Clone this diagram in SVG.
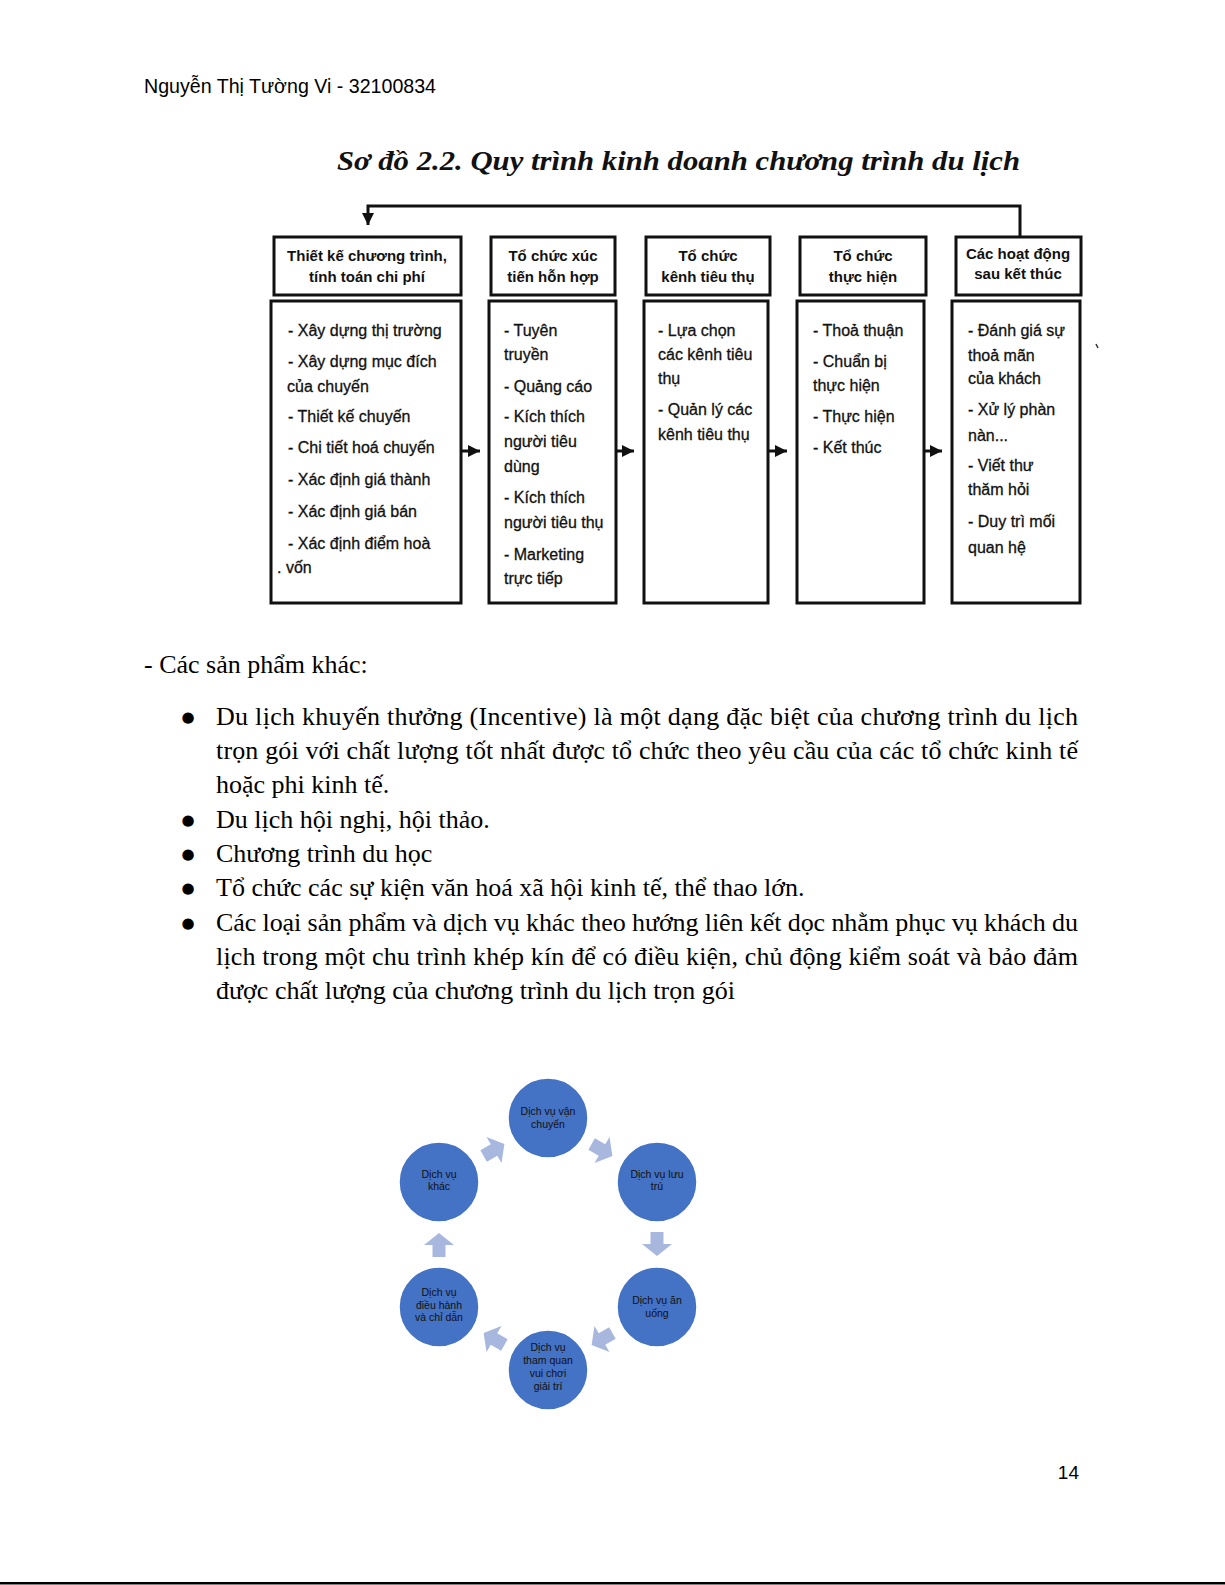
<svg xmlns="http://www.w3.org/2000/svg" width="1225" height="1585" viewBox="0 0 1225 1585">
<defs>
<style>
.box{fill:#fff;stroke:#111;stroke-width:3}
.hd{font-family:"Liberation Sans",Arial,sans-serif;font-size:15px;font-weight:bold;fill:#111;text-anchor:middle}
.bd{font-family:"Liberation Sans",Arial,sans-serif;font-size:16px;fill:#111;stroke:#111;stroke-width:0.3}
.ln{fill:none;stroke:#111;stroke-width:3}
.para{font-family:"Liberation Serif","Times New Roman",serif;font-size:26px;fill:#000}
.bul{font-family:"DejaVu Sans",sans-serif;font-size:15px;fill:#000;text-anchor:middle}
.circ{fill:#4472C4;stroke:#fff;stroke-width:1.5}
.ct{font-family:"Liberation Sans",Arial,sans-serif;font-size:10.5px;fill:#111;text-anchor:middle}
.arr{fill:#A7B7DD}
</style>
<marker id="ah" viewBox="0 0 10 10" refX="10" refY="5" markerWidth="4" markerHeight="4.5" orient="auto" markerUnits="strokeWidth">
<path d="M0,0 L10,5 L0,10 Z" fill="#111"/>
</marker>
<path id="blk" d="M-12,-6.5 L0,-6.5 L0,-15 L12,0 L0,15 L0,6.5 L-12,6.5 Z"/>
</defs>
<rect width="1225" height="1585" fill="#fff"/>

<text x="144" y="93" font-family="Liberation Sans,Arial,sans-serif" font-size="20" fill="#000" textLength="292" lengthAdjust="spacingAndGlyphs">Nguyễn Thị Tường Vi - 32100834</text>

<text x="337" y="170" font-family="Liberation Serif,serif" font-size="27" font-weight="bold" font-style="italic" fill="#111" textLength="683" lengthAdjust="spacingAndGlyphs">Sơ đồ 2.2. Quy trình kinh doanh chương trình du lịch</text>

<g id="connectors">
<path class="ln" d="M1020,237 L1020,206 L368,206 L368,225" marker-end="url(#ah)"/>
<path class="ln" d="M461,451 L480,451" marker-end="url(#ah)"/>
<path class="ln" d="M616,451 L634,451" marker-end="url(#ah)"/>
<path class="ln" d="M768,451 L787,451" marker-end="url(#ah)"/>
<path class="ln" d="M924,451 L942,451" marker-end="url(#ah)"/>
</g>

<g id="step1">
<rect class="box" x="274" y="237" width="187" height="58"/>
<text class="hd" x="367" y="261">Thiết kế chương trình,</text>
<text class="hd" x="367" y="282">tính toán chi phí</text>
<rect class="box" x="271" y="301" width="190" height="302"/>
<text class="bd" x="288" y="336">- Xây dựng thị trường</text>
<text class="bd" x="288" y="367">- Xây dựng mục đích</text>
<text class="bd" x="287" y="392">của chuyến</text>
<text class="bd" x="288" y="422">- Thiết kế chuyến</text>
<text class="bd" x="288" y="453">- Chi tiết hoá chuyến</text>
<text class="bd" x="288" y="485">- Xác định giá thành</text>
<text class="bd" x="288" y="517">- Xác định giá bán</text>
<text class="bd" x="288" y="549">- Xác định điểm hoà</text>
<text class="bd" x="277" y="573">. vốn</text>
</g>

<g id="step2">
<rect class="box" x="491" y="237" width="124" height="58"/>
<text class="hd" x="553" y="261">Tổ chức xúc</text>
<text class="hd" x="553" y="282">tiến hỗn hợp</text>
<rect class="box" x="489" y="301" width="127" height="302"/>
<text class="bd" x="504" y="336">- Tuyên</text>
<text class="bd" x="504" y="360">truyền</text>
<text class="bd" x="504" y="392">- Quảng cáo</text>
<text class="bd" x="504" y="422">- Kích thích</text>
<text class="bd" x="504" y="447">người tiêu</text>
<text class="bd" x="504" y="472">dùng</text>
<text class="bd" x="504" y="503">- Kích thích</text>
<text class="bd" x="504" y="528">người tiêu thụ</text>
<text class="bd" x="504" y="560">- Marketing</text>
<text class="bd" x="504" y="584">trực tiếp</text>
</g>

<g id="step3">
<rect class="box" x="646" y="237" width="124" height="58"/>
<text class="hd" x="708" y="261">Tổ chức</text>
<text class="hd" x="708" y="282">kênh tiêu thụ</text>
<rect class="box" x="644" y="301" width="124" height="302"/>
<text class="bd" x="658" y="336">- Lựa chọn</text>
<text class="bd" x="658" y="360">các kênh tiêu</text>
<text class="bd" x="658" y="384">thụ</text>
<text class="bd" x="658" y="415">- Quản lý các</text>
<text class="bd" x="658" y="440">kênh tiêu thụ</text>
</g>

<g id="step4">
<rect class="box" x="800" y="237" width="126" height="58"/>
<text class="hd" x="863" y="261">Tổ chức</text>
<text class="hd" x="863" y="282">thực hiện</text>
<rect class="box" x="797" y="301" width="127" height="302"/>
<text class="bd" x="813" y="336">- Thoả thuận</text>
<text class="bd" x="813" y="367">- Chuẩn bị</text>
<text class="bd" x="813" y="391">thực hiện</text>
<text class="bd" x="813" y="422">- Thực hiện</text>
<text class="bd" x="813" y="453">- Kết thúc</text>
</g>

<g id="step5">
<rect class="box" x="956" y="237" width="125" height="58"/>
<text class="hd" x="1018" y="259">Các hoạt động</text>
<text class="hd" x="1018" y="279">sau kết thúc</text>
<rect class="box" x="952" y="301" width="128" height="302"/>
<text class="bd" x="968" y="336">- Đánh giá sự</text>
<text class="bd" x="968" y="361">thoả mãn</text>
<text class="bd" x="968" y="384">của khách</text>
<text class="bd" x="968" y="415">- Xử lý phàn</text>
<text class="bd" x="968" y="441">nàn...</text>
<text class="bd" x="968" y="471">- Viết thư</text>
<text class="bd" x="968" y="495">thăm hỏi</text>
<text class="bd" x="968" y="527">- Duy trì mối</text>
<text class="bd" x="968" y="553">quan hệ</text>
</g>
<path d="M1096,344 L1098,348" stroke="#333" stroke-width="1.5"/>

<g id="paragraph">
<text class="para" x="144" y="673">- Các sản phẩm khác:</text>
<text class="bul" x="188" y="722">●</text>
<text class="para" x="216" y="725" textLength="862" lengthAdjust="spacing">Du lịch khuyến thưởng (Incentive) là một dạng đặc biệt của chương trình du lịch</text>
<text class="para" x="216" y="759" textLength="862" lengthAdjust="spacing">trọn gói với chất lượng tốt nhất được tổ chức theo yêu cầu của các tổ chức kinh tế</text>
<text class="para" x="216" y="793">hoặc phi kinh tế.</text>
<text class="bul" x="188" y="825">●</text>
<text class="para" x="216" y="828">Du lịch hội nghị, hội thảo.</text>
<text class="bul" x="188" y="859">●</text>
<text class="para" x="216" y="862">Chương trình du học</text>
<text class="bul" x="188" y="893">●</text>
<text class="para" x="216" y="896">Tổ chức các sự kiện văn hoá xã hội kinh tế, thể thao lớn.</text>
<text class="bul" x="188" y="928">●</text>
<text class="para" x="216" y="931" textLength="862" lengthAdjust="spacing">Các loại sản phẩm và dịch vụ khác theo hướng liên kết dọc nhằm phục vụ khách du</text>
<text class="para" x="216" y="965" textLength="862" lengthAdjust="spacing">lịch trong một chu trình khép kín để có điều kiện, chủ động kiểm soát và bảo đảm</text>
<text class="para" x="216" y="999">được chất lượng của chương trình du lịch trọn gói</text>
</g>

<g id="cycle-arrows">
<use href="#blk" class="arr" transform="translate(602,1150) rotate(30)"/>
<use href="#blk" class="arr" transform="translate(657,1244) rotate(90)"/>
<use href="#blk" class="arr" transform="translate(602,1339) rotate(150)"/>
<use href="#blk" class="arr" transform="translate(494,1339) rotate(210)"/>
<use href="#blk" class="arr" transform="translate(439,1245) rotate(270)"/>
<use href="#blk" class="arr" transform="translate(494,1150) rotate(330)"/>
</g>

<g id="c1">
<circle class="circ" cx="548" cy="1118" r="40"/>
<text class="ct" x="548" y="1115">Dịch vụ vận</text>
<text class="ct" x="548" y="1128">chuyển</text>
</g>
<g id="c2">
<circle class="circ" cx="657" cy="1182" r="40"/>
<text class="ct" x="657" y="1178">Dịch vụ lưu</text>
<text class="ct" x="657" y="1190">trú</text>
</g>
<g id="c3">
<circle class="circ" cx="657" cy="1307" r="40"/>
<text class="ct" x="657" y="1304">Dịch vụ ăn</text>
<text class="ct" x="657" y="1317">uống</text>
</g>
<g id="c4">
<circle class="circ" cx="548" cy="1370" r="40"/>
<text class="ct" x="548" y="1351">Dịch vụ</text>
<text class="ct" x="548" y="1364">tham quan</text>
<text class="ct" x="548" y="1377">vui chơi</text>
<text class="ct" x="548" y="1390">giải trí</text>
</g>
<g id="c5">
<circle class="circ" cx="439" cy="1307" r="40"/>
<text class="ct" x="439" y="1296">Dịch vụ</text>
<text class="ct" x="439" y="1309">điều hành</text>
<text class="ct" x="439" y="1321">và chỉ dẫn</text>
</g>
<g id="c6">
<circle class="circ" cx="439" cy="1182" r="40"/>
<text class="ct" x="439" y="1178">Dịch vụ</text>
<text class="ct" x="439" y="1190">khác</text>
</g>

<text x="1079" y="1479" font-family="Liberation Sans,Arial,sans-serif" font-size="19" fill="#000" text-anchor="end">14</text>
<rect x="0" y="1582" width="1225" height="2.5" fill="#000"/>
</svg>
